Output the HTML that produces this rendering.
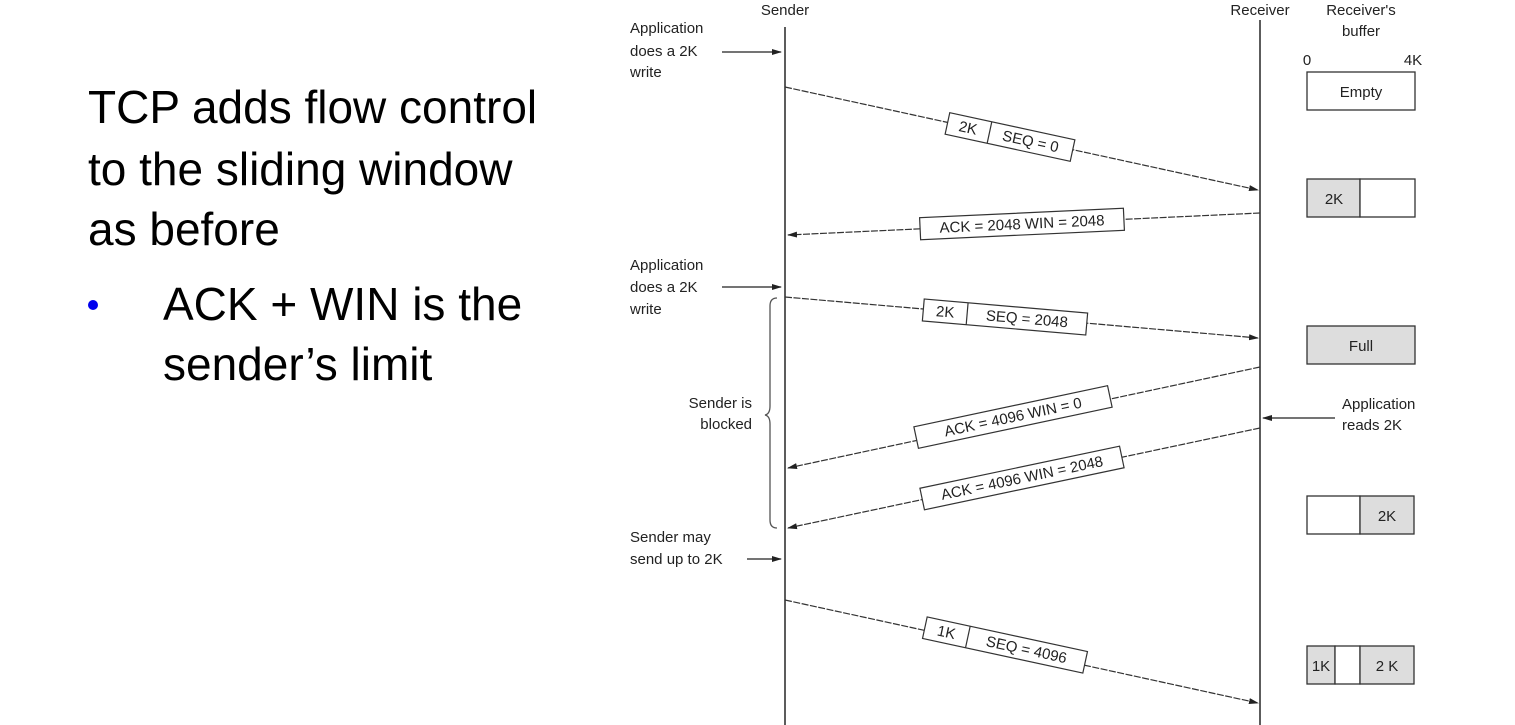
<!DOCTYPE html>
<html><head><meta charset="utf-8"><style>
html,body{margin:0;padding:0;background:#fff;width:1515px;height:725px;overflow:hidden}
svg{display:block}
.big{font-family:"Liberation Sans",Arial,sans-serif;font-size:46px;fill:#000}
.s{font-family:"Liberation Sans",Arial,sans-serif;font-size:15px;fill:#222}
.m{font-family:"Liberation Sans",Arial,sans-serif;font-size:15px;fill:#222}
</style></head><body>
<svg width="1515" height="725" viewBox="0 0 1515 725" xmlns="http://www.w3.org/2000/svg">
<defs>
<marker id="a" markerWidth="10" markerHeight="8" refX="9" refY="4" orient="auto" markerUnits="userSpaceOnUse">
<path d="M0,1 L10,4 L0,7 z" fill="#222"/></marker>
</defs>
<text class="big" x="88" y="123">TCP adds flow control</text>
<text class="big" x="88" y="185">to the sliding window</text>
<text class="big" x="88" y="245">as before</text>
<circle cx="93" cy="305" r="5" fill="#0000ee"/>
<text class="big" x="163" y="320">ACK + WIN is the</text>
<text class="big" x="163" y="380">sender’s limit</text>

<!-- lifelines -->
<line x1="785" y1="27" x2="785" y2="725" stroke="#333" stroke-width="1.6"/>
<line x1="1260" y1="20" x2="1260" y2="725" stroke="#333" stroke-width="1.6"/>
<text class="s" x="785" y="15" text-anchor="middle">Sender</text>
<text class="s" x="1260" y="15" text-anchor="middle">Receiver</text>
<text class="s" x="1361" y="15" text-anchor="middle">Receiver's</text>
<text class="s" x="1361" y="36" text-anchor="middle">buffer</text>
<text class="s" x="1307" y="65" text-anchor="middle">0</text>
<text class="s" x="1413" y="65" text-anchor="middle">4K</text>

<!-- left annotations -->
<text class="s" x="630" y="33">Application</text>
<text class="s" x="630" y="56">does a 2K</text>
<text class="s" x="630" y="77">write</text>
<line x1="722" y1="52" x2="781" y2="52" stroke="#222" stroke-width="1.3" marker-end="url(#a)"/>
<text class="s" x="630" y="270">Application</text>
<text class="s" x="630" y="292">does a 2K</text>
<text class="s" x="630" y="314">write</text>
<line x1="722" y1="287" x2="781" y2="287" stroke="#222" stroke-width="1.3" marker-end="url(#a)"/>
<text class="s" x="752" y="408" text-anchor="end">Sender is</text>
<text class="s" x="752" y="429" text-anchor="end">blocked</text>
<path d="M777,298 Q770,298 770,306 L770,406 Q770,414 765,415 Q770,416 770,424 L770,520 Q770,528 777,528" fill="none" stroke="#555" stroke-width="1.3"/>
<text class="s" x="630" y="542">Sender may</text>
<text class="s" x="630" y="564">send up to 2K</text>
<line x1="747" y1="559" x2="781" y2="559" stroke="#222" stroke-width="1.3" marker-end="url(#a)"/>

<!-- receiver annotation -->
<line x1="1335" y1="418" x2="1263" y2="418" stroke="#222" stroke-width="1.3" marker-end="url(#a)"/>
<text class="s" x="1342" y="409">Application</text>
<text class="s" x="1342" y="430">reads 2K</text>

<!-- messages -->
<g stroke="#333" stroke-width="1.2" stroke-dasharray="7 1.5" fill="none">
<line x1="785" y1="87" x2="1258" y2="190" marker-end="url(#a)"/>
<line x1="1260" y1="213" x2="788" y2="235" marker-end="url(#a)"/>
<line x1="785" y1="297" x2="1258" y2="338" marker-end="url(#a)"/>
<line x1="1260" y1="367" x2="788" y2="468" marker-end="url(#a)"/>
<line x1="1260" y1="428" x2="788" y2="528" marker-end="url(#a)"/>
<line x1="785" y1="600" x2="1258" y2="703" marker-end="url(#a)"/>
</g>

<g transform="translate(1010,137) rotate(12.2)">
<rect x="-64" y="-11" width="128" height="22" fill="#fff" stroke="#333" stroke-width="1.2"/>
<line x1="-21" y1="-11" x2="-21" y2="11" stroke="#333" stroke-width="1.2"/>
<text class="m" x="-43" y="5" text-anchor="middle">2K</text>
<text class="m" x="21" y="5" text-anchor="middle">SEQ = 0</text>
</g>
<g transform="translate(1022,224) rotate(-2.65)">
<rect x="-102" y="-11" width="204" height="22" fill="#fff" stroke="#333" stroke-width="1.2"/>
<text class="m" x="0" y="5" text-anchor="middle">ACK = 2048 WIN = 2048</text>
</g>
<g transform="translate(1005,317) rotate(4.9)">
<rect x="-82" y="-11" width="164" height="22" fill="#fff" stroke="#333" stroke-width="1.2"/>
<line x1="-38" y1="-11" x2="-38" y2="11" stroke="#333" stroke-width="1.2"/>
<text class="m" x="-60" y="5" text-anchor="middle">2K</text>
<text class="m" x="22" y="5" text-anchor="middle">SEQ = 2048</text>
</g>
<g transform="translate(1013,417) rotate(-12)">
<rect x="-99" y="-11" width="198" height="22" fill="#fff" stroke="#333" stroke-width="1.2"/>
<text class="m" x="0" y="5" text-anchor="middle">ACK = 4096 WIN = 0</text>
</g>
<g transform="translate(1022,478) rotate(-11.9)">
<rect x="-102" y="-11" width="204" height="22" fill="#fff" stroke="#333" stroke-width="1.2"/>
<text class="m" x="0" y="5" text-anchor="middle">ACK = 4096 WIN = 2048</text>
</g>
<g transform="translate(1005,645) rotate(12.2)">
<rect x="-82" y="-11" width="164" height="22" fill="#fff" stroke="#333" stroke-width="1.2"/>
<line x1="-38" y1="-11" x2="-38" y2="11" stroke="#333" stroke-width="1.2"/>
<text class="m" x="-60" y="5" text-anchor="middle">1K</text>
<text class="m" x="22" y="5" text-anchor="middle">SEQ = 4096</text>
</g>

<!-- buffers -->
<g stroke="#333" stroke-width="1.3">
<rect x="1307" y="72" width="108" height="38" fill="#fff"/>
<rect x="1307" y="179" width="53" height="38" fill="#ddd"/>
<rect x="1360" y="179" width="55" height="38" fill="#fff"/>
<rect x="1307" y="326" width="108" height="38" fill="#ddd"/>
<rect x="1307" y="496" width="53" height="38" fill="#fff"/>
<rect x="1360" y="496" width="54" height="38" fill="#ddd"/>
<rect x="1307" y="646" width="28" height="38" fill="#ddd"/>
<rect x="1335" y="646" width="25" height="38" fill="#fff"/>
<rect x="1360" y="646" width="54" height="38" fill="#ddd"/>
</g>
<text class="s" x="1361" y="97" text-anchor="middle">Empty</text>
<text class="s" x="1334" y="204" text-anchor="middle">2K</text>
<text class="s" x="1361" y="351" text-anchor="middle">Full</text>
<text class="s" x="1387" y="521" text-anchor="middle">2K</text>
<text class="s" x="1321" y="671" text-anchor="middle">1K</text>
<text class="s" x="1387" y="671" text-anchor="middle">2 K</text>
</svg>
</body></html>
